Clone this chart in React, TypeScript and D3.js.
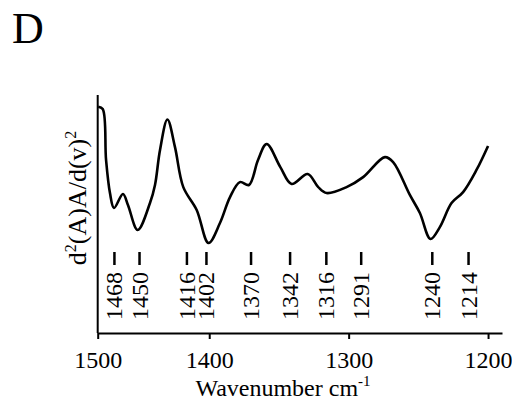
import { useEffect, useRef } from 'react';
import * as d3 from 'd3';

// second-derivative spectrum
const wavenumbers = [
  1479.6, 1476.4, 1474, 1471.2, 1468.3, 1461.9, 1458.3, 1451.3, 1442.5, 1438.9, 1435.3, 1430,
  1424.6, 1418.6, 1409, 1400.5, 1392.3, 1385.1, 1378, 1371.5, 1365, 1358.8, 1349, 1340.9,
  1329.4, 1321.8, 1315.8, 1301.5, 1289.6, 1274, 1268.1, 1256.1, 1248.9, 1241.3, 1234.6,
  1226.2, 1217.9, 1208.3, 1200,
];
const intensity = [
  95.1, 94.1, 72.7, 58.8, 52.5, 58.4, 53.8, 43.3, 54.6, 62.2, 76.9, 89.7,
  78.2, 61.3, 51.7, 37.8, 46.2, 57.1, 63.4, 62.2, 72.7, 79.4, 69.7, 62.6,
  66.8, 61.3, 58.8, 61.3, 65.5, 73.9, 71.8, 58.0, 50.4, 39.5, 44.5,
  54.6, 59.2, 68.5, 78.6,
];

const peakLabels = [1468, 1450, 1416, 1402, 1370, 1342, 1316, 1291, 1240, 1214];

// the original axis starts near 1480 but labels that end "1500"
const xDomain = [1480, 1190];
const xTickValues = [1480, 1400, 1300, 1200];
const xTickLabels = ['1500', '1400', '1300', '1200'];
const yDomain = [0, 100];

const FONT = '"Liberation Serif", "Times New Roman", serif';

export default function App() {
  const svgRef = useRef<SVGSVGElement>(null);

  useEffect(() => {
    if (!svgRef.current) return;
    d3.select(svgRef.current).selectAll('*').remove();

    const width = 512;
    const height = 406;
    const margin = { top: 95, right: 10, bottom: 73, left: 97.7 };

    const svg = d3.select(svgRef.current).attr('width', width).attr('height', height);

    const x = d3.scaleLinear().domain(xDomain).range([margin.left, width - margin.right]);
    const y = d3.scaleLinear().domain(yDomain).range([height - margin.bottom, margin.top]);
    const y0 = y(0);

    // panel letter
    svg
      .append('text')
      .attr('x', 12)
      .attr('y', 43)
      .attr('font-family', FONT)
      .attr('font-size', 44)
      .attr('fill', '#000')
      .text('D');

    // axes
    svg
      .append('line')
      .attr('x1', margin.left)
      .attr('x2', margin.left)
      .attr('y1', margin.top)
      .attr('y2', y0)
      .attr('stroke', '#000')
      .attr('stroke-width', 2);

    const xAxis = d3
      .axisBottom(x)
      .tickValues(xTickValues)
      .tickSize(6)
      .tickSizeOuter(0)
      .tickFormat((_d, i) => xTickLabels[i]);

    const gx = svg.append('g').attr('transform', `translate(0,${y0})`).call(xAxis);
    gx.select('.domain').attr('stroke', '#000').attr('stroke-width', 2);
    gx.selectAll('.tick line').attr('stroke', '#000').attr('stroke-width', 2);
    gx.selectAll('.tick text')
      .attr('font-family', FONT)
      .attr('font-size', 24)
      .attr('fill', '#000')
      .attr('dy', '1.1em');

    // axis titles
    const xt = svg
      .append('text')
      .attr('x', 283)
      .attr('y', 396)
      .attr('text-anchor', 'middle')
      .attr('font-family', FONT)
      .attr('font-size', 24)
      .attr('fill', '#000');
    xt.append('tspan').text('Wavenumber cm');
    xt.append('tspan').attr('font-size', 15).attr('dy', -10).text('-1');

    const yt = svg
      .append('text')
      .attr('transform', `translate(86,198) rotate(-90)`)
      .attr('text-anchor', 'middle')
      .attr('font-family', FONT)
      .attr('font-size', 26)
      .attr('fill', '#000');
    yt.append('tspan').text('d');
    yt.append('tspan').attr('font-size', 16).attr('dy', -10).text('2');
    yt.append('tspan').attr('dy', 10).text('(A)A/d(v)');
    yt.append('tspan').attr('font-size', 16).attr('dy', -10).text('2');

    // spectrum
    const points = wavenumbers.map((w, i) => [w, intensity[i]] as [number, number]);
    const line = d3
      .line<[number, number]>()
      .x((d) => x(d[0]))
      .y((d) => y(d[1]))
      .curve(d3.curveCatmullRom.alpha(0.5));

    svg
      .append('path')
      .datum(points)
      .attr('d', line)
      .attr('fill', 'none')
      .attr('stroke', '#000')
      .attr('stroke-width', 2.6)
      .attr('stroke-linejoin', 'round');

    // peak markers
    const peaks = svg.append('g');
    peaks
      .selectAll('line')
      .data(peakLabels)
      .enter()
      .append('line')
      .attr('x1', (d) => x(d))
      .attr('x2', (d) => x(d))
      .attr('y1', 252)
      .attr('y2', 265)
      .attr('stroke', '#000')
      .attr('stroke-width', 2.5);

    peaks
      .selectAll('text')
      .data(peakLabels)
      .enter()
      .append('text')
      .attr('transform', (d) => `translate(${x(d)},320) rotate(-90)`)
      .attr('dominant-baseline', 'central')
      .attr('text-anchor', 'start')
      .attr('font-family', FONT)
      .attr('font-size', 24)
      .attr('fill', '#000')
      .text((d) => String(d));
  }, []);

  return (
    <div style={{ position: 'absolute', left: 0, top: 0, background: '#fff' }}>
      <svg ref={svgRef} style={{ display: 'block' }} />
    </div>
  );
}
